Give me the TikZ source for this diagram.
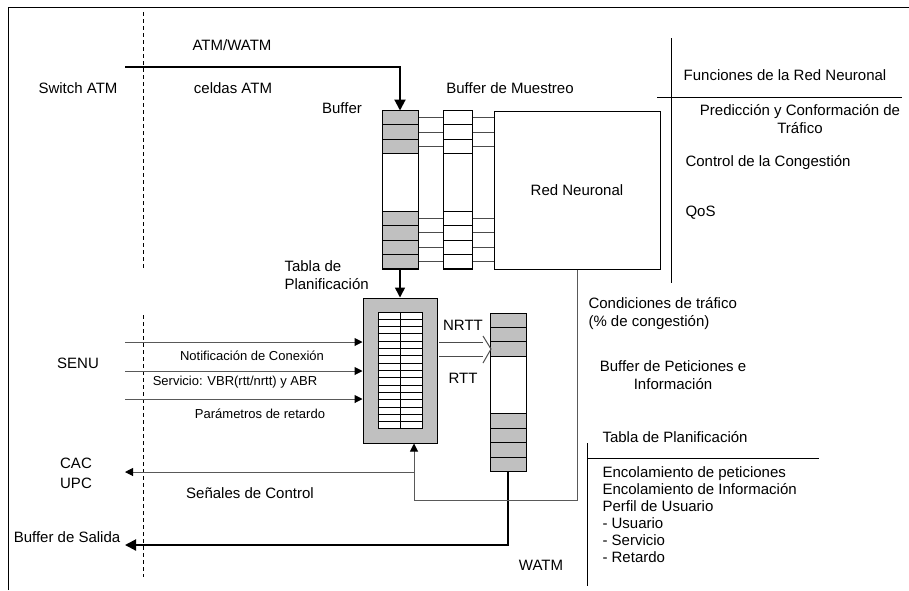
\documentclass[tikz,border=0pt]{standalone}
\usepackage{fontspec}
\setmainfont{Liberation Sans}
\usetikzlibrary{arrows.meta, positioning, calc}
\definecolor{cellgray}{HTML}{C0C0C0}
\tikzset{
    scheme/.style={x=1pt, y=-1pt, line width=1pt, font=\fontsize{15}{18}\selectfont},
    txt/.style={inner sep=0pt, align=center},
    smalltxt/.style={inner sep=0pt, font=\fontsize{13}{15}\selectfont},
    column/.style={draw, minimum width=36pt, minimum height=158pt, inner sep=0pt},
    cell/.style={draw, fill=cellgray, minimum width=36pt, minimum height=14.4pt, inner sep=0pt},
    samplecell/.style={cell, fill=white, minimum width=29pt},
    link/.style={draw=black!70},
    sigline/.style={draw=black!65, -{Triangle[length=8pt, width=8pt, color=black]}},
    mainflow/.style={line width=2pt, -{Triangle[length=11pt, width=11pt]}},
    % separadores punteados entre el switch y el sistema
    border/.style={dash pattern=on 4pt off 3pt},
}

\begin{document}
\begin{tikzpicture}[scheme]
    \useasboundingbox (0,0) rectangle (909,590);
    \draw (8,590) -- (8,7) -- (909,7);
    \draw[border] (143,12) -- (143,270);
    \draw[border] (143,315) -- (143,577);

    % buffer de entrada, buffer de muestreo y red neuronal
    \node[column]                        (buf)      at (400,190)   {};
    \node[column, minimum width=29pt]    (muestreo) at (457.5,190) {};
    \node[draw, minimum width=166pt, minimum height=158pt] (red) at (577,190) {Red Neuronal};
    \foreach \i in {0,1,2,7,8,9,10} {
        \node[cell]       (buf-\i) at ($(buf.north)+(0,{14.4*(\i+0.5)})$) {};
        \node[samplecell] (mue-\i) at ($(muestreo.north)+(0,{14.4*(\i+0.5)})$) {};
        \draw[link] (buf-\i) -- (mue-\i);
        \draw[link] (mue-\i) -- (mue-\i -| red.west);
    }

    % tabla de planificacion
    \node[draw, fill=cellgray, minimum width=74pt, minimum height=145pt] (tabla) at (400,370.5) {};
    \node[draw, fill=white, minimum width=44pt, minimum height=116pt, inner sep=0pt] (filas) at (tabla.center) {};
    \foreach \k in {1,...,15}
        \draw ($(filas.north west)!\k/16!(filas.south west)$) -- ($(filas.north east)!\k/16!(filas.south east)$);
    \draw (filas.north) -- (filas.south);

    % buffer de peticiones (NRTT / RTT)
    \node[column] (rtt) at (508,392.5) {};
    \foreach \i in {0,1,2,7,8,9,10}
        \node[cell] (rtt-\i) at ($(rtt.north)+(0,{14.4*(\i+0.5)})$) {};

    % flujo de celdas
    \coordinate (atm)    at (125,67);
    \coordinate (salida) at (125,545);
    \draw[mainflow] (atm) -| (buf.north);
    \draw[line width=1.5pt, -{Triangle[length=10pt, width=10pt]}] (buf.south) -- (tabla.north);
    \draw[mainflow] (rtt.south) |- (salida);

    % NRTT / RTT hacia el buffer
    \coordinate (nrtt)  at (439,342);
    \coordinate (rttin) at (439,356);
    \coordinate (chev)  at (491,349);
    \draw[link] (nrtt) -- ++(44,0);
    \draw[link] (rttin) -- ++(44,0);
    \draw[link] ($(nrtt)+(44,-6)$) -- (chev) -- ($(rttin)+(44,7)$);

    % senalizacion de entrada
    \foreach \y/\n in {342/1, 371/2, 399/3} {
        \coordinate (senu\n) at (125,\y);
        \draw[sigline] (senu\n) -- (senu\n -| tabla.west);
    }

    % realimentacion y senales de control
    \coordinate (fb)  at (414,500);
    \coordinate (cac) at (125,472);
    \draw[sigline] (red.south) |- (fb) -- (fb |- tabla.south);
    \draw[sigline] (fb |- cac) -- (cac);

    % textos
    \node[txt] (t-atm)    at (232,45)  {ATM/WATM};
    \node[txt] (t-switch) at (78,88)   {Switch ATM};
    \node[txt] (t-celdas) at (233,88)  {celdas ATM};
    \node[txt] (t-buf)    at (342,108) {Buffer};
    \node[txt] (t-mue)    at (510,88)  {Buffer de Muestreo};
    \node[txt, align=left, anchor=west] (t-tabla) at (284,275) {Tabla de\\Planificación};
    \node[txt] (t-nrtt)   at (463,325) {NRTT};
    \node[txt] (t-rtt)    at (463,378) {RTT};
    \node[txt] (t-senu)   at (78,363)  {SENU};
    \node[smalltxt] (t-notif) at (252,356) {Notificación de Conexión};
    \node[smalltxt] (t-serv)  at (235,382) {Servicio: VBR(rtt/nrtt) y ABR};
    \node[smalltxt] (t-param) at (260,414) {Parámetros de retardo};
    \node[txt] (t-cac)    at (76,473)  {CAC\\[2pt]UPC};
    \node[txt] (t-control) at (250,493) {Señales de Control};
    \node[txt] (t-salida) at (67,537)  {Buffer de Salida};
    \node[txt] (t-watm)   at (541,565) {WATM};

    % funciones de la red neuronal
    \draw (671,38) -- (671,283);
    \draw (657,97) -- (902,97);
    \node[txt] (t-func) at (785,75)  {Funciones de la Red Neuronal};
    \node[txt] (t-pred) at (800,119) {Predicción y Conformación de\\Tráfico};
    \node[txt, anchor=west] (t-cong) at (685,163) {Control de la Congestión};
    \node[txt, anchor=west] (t-qos)  at (685,213) {QoS};

    % condiciones y tabla de planificacion
    \node[txt, align=left, anchor=west] (t-cond) at (588,314) {Condiciones de tráfico\\(\% de congestión)};
    \node[txt] (t-pet) at (673,375) {Buffer de Peticiones e\\Información};
    \draw (587,443) -- (587,586);
    \draw (587,458) -- (819,458);
    \node[txt, anchor=west] (t-tab2) at (602,437) {Tabla de Planificación};
    \node[txt, align=left, anchor=west, font=\fontsize{15}{17}\selectfont] (t-enc) at (602,515)
        {Encolamiento de peticiones\\Encolamiento de Información\\Perfil de Usuario\\- Usuario\\- Servicio\\- Retardo};
\end{tikzpicture}
\end{document}
